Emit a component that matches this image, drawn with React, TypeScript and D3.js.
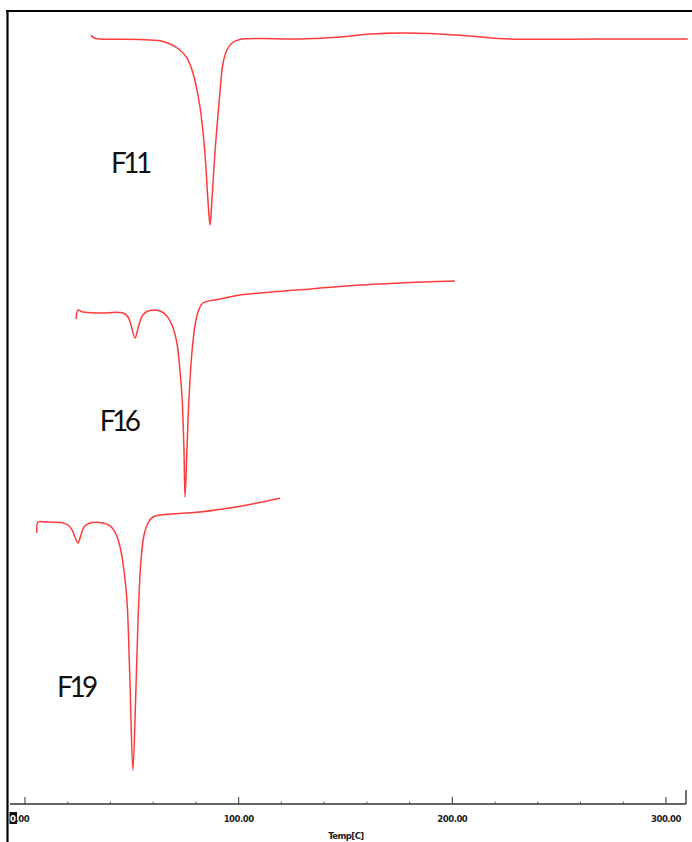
import React from "react";
import * as d3 from "d3";

// DSC thermograms: temperature (°C) vs. heat flow (mW, relative to each trace's baseline)
const TEMP_F11 = [30.9, 32.3, 35.1, 53.8, 63.2, 67.9, 72.5, 75.8, 78.6, 81.9, 84.2, 85.6, 86.6, 87.5, 88.9, 90.8, 92.7, 94.5, 96.9, 100.6, 128.7, 147.4, 161.4, 175.5, 189.5, 208.2, 227, 269, 310.2];
const HF_F11 = [0.5, 0.12, 0, -0.06, -0.21, -0.62, -1.37, -2.37, -4.25, -8.5, -14.25, -20.1, -23.25, -20.1, -14.25, -8, -3, -1.37, -0.5, -0.06, 0, 0.25, 0.62, 0.75, 0.69, 0.37, 0, 0, 0];

const TEMP_F16 = [23.9, 24.8, 27.1, 35.1, 45.9, 48.2, 49.6, 51.5, 53.3, 55.2, 57.6, 63.2, 66.4, 68.8, 71.1, 72.5, 73.5, 74.4, 74.9, 75.8, 76.7, 78.1, 79.6, 81, 83.3, 91.3, 100.6, 128.7, 152.1, 175.5, 201.2];
const HF_F16 = [-0.75, 0.37, 0.12, 0, 0, -0.5, -1.5, -3.12, -1.5, -0.25, 0.25, 0.25, -0.37, -1.5, -3.75, -7.1, -10.5, -17.1, -23, -17.1, -10.9, -5, -1.5, 0.12, 1.25, 1.75, 2.25, 2.9, 3.4, 3.75, 4];

const TEMP_F19 = [5.6, 6.1, 10.3, 17.8, 20.1, 22, 23.4, 24.8, 26.2, 27.6, 30.4, 36.5, 39.8, 42.1, 44.5, 46.3, 47.7, 49.1, 50.5, 51.9, 52.9, 54.3, 55.7, 57.6, 59.9, 63.2, 81.9, 100.6, 119.3];
const HF_F19 = [-1.25, 0.12, 0.12, 0, -0.25, -0.87, -1.75, -2.5, -1.5, -0.5, 0, 0, -0.37, -1.12, -3, -5.9, -9.6, -19.6, -30.9, -20.9, -12.1, -4.6, -1.5, 0, 0.75, 1, 1.37, 2.1, 3.1];

const SAMPLES = ["F11", "F16", "F19"];
const OFFSETS = [95.5, 61.25, 35];
// label anchor in data units: [temperature, heat flow]
const LABEL_POS: [number, number][] = [[40.2, 78.75], [35, 46.5], [15, 13.25]];

const MAJOR_TICKS = [0, 100, 200, 300];
const TICK_LABELS = ["0.00", "100.00", "200.00", "300.00"];
const MINOR_STEP = 20;
const AXIS_TITLE = "Temp[C]";

const W = 692;
const H = 842;

export default function App() {
  const x = d3.scaleLinear().domain([0, 300]).range([25, 666]);
  const y = d3.scaleLinear().domain([0, 100]).range([803, 3]);

  const series = [
    { t: TEMP_F11, v: HF_F11 },
    { t: TEMP_F16, v: HF_F16 },
    { t: TEMP_F19, v: HF_F19 },
  ];

  const minorTicks = d3.range(0, 301, MINOR_STEP).filter((d) => d % 100 !== 0);
  const axisY = 804;
  const [t0, t1] = [x.invert(10), x.invert(686)];

  return (
    <svg
      width={W}
      height={H}
      style={{ position: "absolute", left: 0, top: 0, background: "#fff" }}
    >
      {/* frame */}
      <line x1={6} x2={W} y1={11} y2={11} stroke="#000" strokeWidth={2.2} />
      <line x1={7.5} x2={7.5} y1={10} y2={H} stroke="#000" strokeWidth={2.2} />

      {/* traces */}
      {series.map((s, i) => {
        const line = d3
          .line<number>()
          .x((_, j) => x(s.t[j]))
          .y((d) => y(d + OFFSETS[i]))
          .curve(d3.curveCatmullRom.alpha(0.5));
        return (
          <path
            key={SAMPLES[i]}
            d={line(s.v) || ""}
            fill="none"
            stroke="#ff3a3a"
            strokeWidth={1.5}
            strokeLinejoin="round"
          />
        );
      })}

      {/* sample labels */}
      {SAMPLES.map((name, i) => (
        <text
          key={name}
          x={x(LABEL_POS[i][0])}
          y={y(LABEL_POS[i][1])}
          fontFamily="Lato, 'Open Sans', sans-serif"
          fontSize={28}
          letterSpacing={-3.5}
          fill="#111"
        >
          {name}
        </text>
      ))}

      {/* temperature axis */}
      <line x1={x(t0)} x2={x(t1)} y1={axisY} y2={axisY} stroke="#333" strokeWidth={1.6} />
      <line x1={x(t1)} x2={x(t1)} y1={axisY} y2={790} stroke="#333" strokeWidth={1.4} />
      {MAJOR_TICKS.map((d) => (
        <line key={"M" + d} x1={x(d)} x2={x(d)} y1={axisY} y2={797} stroke="#333" strokeWidth={1} />
      ))}
      {minorTicks.map((d) => (
        <line key={"m" + d} x1={x(d)} x2={x(d)} y1={axisY} y2={801.5} stroke="#555" strokeWidth={1} />
      ))}
      <rect x={9.5} y={812} width={7.5} height={12} fill="#111" />
      {MAJOR_TICKS.map((d, i) => (
        <text
          key={"l" + d}
          x={i === 0 ? 10 : x(d)}
          y={822}
          textAnchor={i === 0 ? "start" : "middle"}
          fontFamily="'DejaVu Sans Condensed', 'DejaVu Sans', sans-serif"
          fontWeight="bold"
          fontSize={9.5}
          letterSpacing={-0.5}
          fill="#222"
        >
          {i === 0 ? (
            <>
              <tspan fill="#fff">{TICK_LABELS[i][0]}</tspan>
              <tspan>{TICK_LABELS[i].slice(1)}</tspan>
            </>
          ) : (
            TICK_LABELS[i]
          )}
        </text>
      ))}
      <text
        x={346}
        y={839}
        textAnchor="middle"
        fontFamily="'DejaVu Sans Condensed', 'DejaVu Sans', sans-serif"
        fontWeight="bold"
        fontSize={9.5}
        letterSpacing={-0.6}
        fill="#222"
      >
        {AXIS_TITLE}
      </text>
    </svg>
  );
}
